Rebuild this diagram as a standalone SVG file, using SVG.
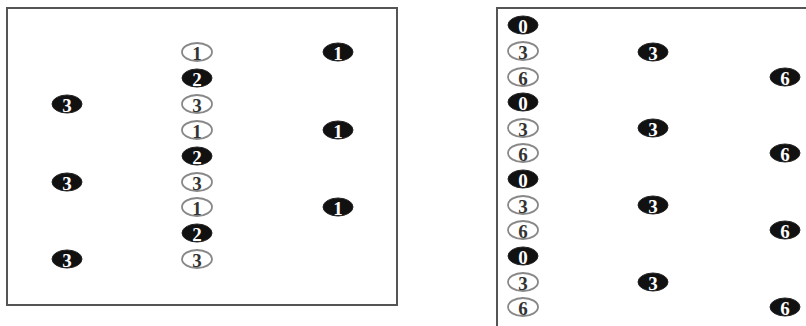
<svg xmlns="http://www.w3.org/2000/svg" width="806" height="326" viewBox="0 0 806 326">
<style>
.box{fill:#fff;stroke:#555;stroke-width:2}
.o ellipse{fill:#fff;stroke:#888;stroke-width:1.8}
.o text{fill:#333}
.f ellipse{fill:#111;stroke:#222;stroke-width:1}
.f text{fill:#fff}
text{font-family:"Liberation Serif","DejaVu Serif",serif;font-weight:bold;font-size:19px;text-anchor:middle;dominant-baseline:central}
</style>
<rect width="806" height="326" fill="#fff"/>
<g id="panel-left">
<rect class="box" x="7" y="8" width="390" height="297"/>
<g id="L-m1" class="o"><ellipse cx="197" cy="52" rx="15" ry="9"/><text x="197" y="53">1</text></g>
<g id="L-m2" class="f"><ellipse cx="197" cy="78" rx="15" ry="9"/><text x="197" y="79">2</text></g>
<g id="L-m3" class="o"><ellipse cx="197" cy="104" rx="15" ry="9"/><text x="197" y="105">3</text></g>
<g id="L-m4" class="o"><ellipse cx="197" cy="130" rx="15" ry="9"/><text x="197" y="131">1</text></g>
<g id="L-m5" class="f"><ellipse cx="197" cy="156" rx="15" ry="9"/><text x="197" y="157">2</text></g>
<g id="L-m6" class="o"><ellipse cx="197" cy="182" rx="15" ry="9"/><text x="197" y="183">3</text></g>
<g id="L-m7" class="o"><ellipse cx="197" cy="207" rx="15" ry="9"/><text x="197" y="208">1</text></g>
<g id="L-m8" class="f"><ellipse cx="197" cy="233" rx="15" ry="9"/><text x="197" y="234">2</text></g>
<g id="L-m9" class="o"><ellipse cx="197" cy="259" rx="15" ry="9"/><text x="197" y="260">3</text></g>
<g id="L-r1" class="f"><ellipse cx="338" cy="52" rx="15" ry="9"/><text x="338" y="53">1</text></g>
<g id="L-r2" class="f"><ellipse cx="338" cy="130" rx="15" ry="9"/><text x="338" y="131">1</text></g>
<g id="L-r3" class="f"><ellipse cx="338" cy="207" rx="15" ry="9"/><text x="338" y="208">1</text></g>
<g id="L-l1" class="f"><ellipse cx="67" cy="104" rx="15" ry="9"/><text x="67" y="105">3</text></g>
<g id="L-l2" class="f"><ellipse cx="67" cy="182" rx="15" ry="9"/><text x="67" y="183">3</text></g>
<g id="L-l3" class="f"><ellipse cx="67" cy="259" rx="15" ry="9"/><text x="67" y="260">3</text></g>
</g>
<g id="panel-right">
<rect class="box" x="497" y="8" width="330" height="330"/>
<g id="R-a1" class="f"><ellipse cx="523" cy="25" rx="15" ry="9"/><text x="523" y="26">0</text></g>
<g id="R-a2" class="o"><ellipse cx="523" cy="51" rx="15" ry="9"/><text x="523" y="52">3</text></g>
<g id="R-a3" class="o"><ellipse cx="523" cy="77" rx="15" ry="9"/><text x="523" y="78">6</text></g>
<g id="R-a4" class="f"><ellipse cx="523" cy="102" rx="15" ry="9"/><text x="523" y="103">0</text></g>
<g id="R-a5" class="o"><ellipse cx="523" cy="128" rx="15" ry="9"/><text x="523" y="129">3</text></g>
<g id="R-a6" class="o"><ellipse cx="523" cy="153" rx="15" ry="9"/><text x="523" y="154">6</text></g>
<g id="R-a7" class="f"><ellipse cx="523" cy="179" rx="15" ry="9"/><text x="523" y="180">0</text></g>
<g id="R-a8" class="o"><ellipse cx="523" cy="205" rx="15" ry="9"/><text x="523" y="206">3</text></g>
<g id="R-a9" class="o"><ellipse cx="523" cy="230" rx="15" ry="9"/><text x="523" y="231">6</text></g>
<g id="R-a10" class="f"><ellipse cx="523" cy="256" rx="15" ry="9"/><text x="523" y="257">0</text></g>
<g id="R-a11" class="o"><ellipse cx="523" cy="282" rx="15" ry="9"/><text x="523" y="283">3</text></g>
<g id="R-a12" class="o"><ellipse cx="523" cy="307" rx="15" ry="9"/><text x="523" y="308">6</text></g>
<g id="R-b1" class="f"><ellipse cx="653" cy="52" rx="15" ry="9"/><text x="653" y="53">3</text></g>
<g id="R-b2" class="f"><ellipse cx="653" cy="128" rx="15" ry="9"/><text x="653" y="129">3</text></g>
<g id="R-b3" class="f"><ellipse cx="653" cy="205" rx="15" ry="9"/><text x="653" y="206">3</text></g>
<g id="R-b4" class="f"><ellipse cx="653" cy="282" rx="15" ry="9"/><text x="653" y="283">3</text></g>
<g id="R-c1" class="f"><ellipse cx="785" cy="77" rx="15" ry="9"/><text x="785" y="78">6</text></g>
<g id="R-c2" class="f"><ellipse cx="785" cy="153" rx="15" ry="9"/><text x="785" y="154">6</text></g>
<g id="R-c3" class="f"><ellipse cx="785" cy="230" rx="15" ry="9"/><text x="785" y="231">6</text></g>
<g id="R-c4" class="f"><ellipse cx="785" cy="307" rx="15" ry="9"/><text x="785" y="308">6</text></g>
</g>
<g id="connectors"/>
</svg>
